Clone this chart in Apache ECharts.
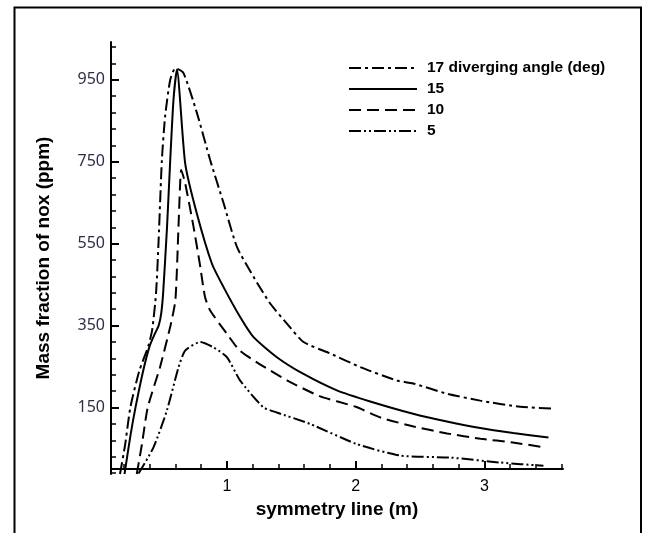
<!DOCTYPE html>
<html>
<head>
<meta charset="utf-8">
<script src="https://cdn.jsdelivr.net/npm/echarts@6/dist/echarts.min.js"></script>
<style>html,body{margin:0;padding:0;background:#fff;}#c{width:647px;height:533px;}</style>
</head>
<body>
<div id="c"></div>
<script>
// ---- data (x = symmetry line in m, y = NOx mass fraction in ppm) ----
const x17 = [0.17,0.21,0.25,0.32,0.39,0.42,0.45,0.47,0.495,0.52,0.56,0.60,0.663,0.767,0.87,0.974,1.078,1.207,1.336,1.466,1.595,1.802,2.035,2.32,2.446,2.708,2.967,3.277,3.523];
const y17 = [-12,60,150,240,300,340,430,560,754,860,950,978,966,869,754,649,542,469,404,355,310,282,249,216,209,184,167,152,148];
const x15 = [0.205,0.25,0.29,0.35,0.40,0.44,0.47,0.49,0.505,0.535,0.56,0.585,0.612,0.676,0.767,0.884,0.974,1.103,1.207,1.388,1.595,1.854,2.113,2.446,2.708,2.967,3.223,3.497];
const y15 = [-12,80,150,240,300,330,350,380,430,590,754,900,975,746,623,501,444,371,322,273,232,192,165,135,116,100,88,77];
const x10 = [0.30,0.34,0.385,0.48,0.562,0.60,0.624,0.637,0.645,0.676,0.741,0.79,0.83,0.87,1.0,1.1,1.26,1.47,1.72,2.0,2.2,2.45,2.71,2.97,3.22,3.46];
const y10 = [-12,60,150,248,350,412,591,697,730,697,591,500,420,387,330,289,255,216,178,152,125,104,87,74,65,53];
const x5 = [0.314,0.43,0.534,0.624,0.676,0.793,0.896,1.0,1.103,1.282,1.388,1.647,2.009,2.346,2.734,3.122,3.458];
const y5 = [-11,53,143,248,289,310,297,273,216,151,138,110,61,33,28,16,8];
const seriesNames = ['17 diverging angle (deg)','15','10','5'];
// ---- axis ticks ----
const xMajor = [1,2,3];
const xMinor = [0.2,0.4,0.6,0.8,1.2,1.4,1.6,1.8,2.2,2.4,2.6,2.8,3.2,3.4,3.6];
const yMajor = [150,350,550,750,950];
const yMinor = [-10,30,70,110,190,230,270,310,390,430,470,510,590,630,670,710,790,830,870,910,990,1030];

const pairs = (xs, ys) => xs.map((v, i) => [v, ys[i]]);
const styles = [
  {type:[12,4,3,4]},
  {type:'solid'},
  {type:[12,6]},
  {type:[12,3,2,3,2,3]}
];
const datasets = [pairs(x17,y17), pairs(x15,y15), pairs(x10,y10), pairs(x5,y5)];

const X_MIN = 0.1, X_MAX = 3.61, Y_MIN = -12, Y_MAX = 1042;
const axisLine = {show:true, lineStyle:{color:'#000', width:2}};
const boldFont = {fontFamily:'Liberation Sans, Arial', fontWeight:'bold', fontSize:15.5, color:'#000'};
const titleFont = {fontFamily:'Liberation Sans, Arial', fontWeight:'bold', fontSize:19, color:'#000'};

const chart = echarts.init(document.getElementById('c'), null, {renderer:'canvas'});
chart.setOption({
  animation:false,
  backgroundColor:'#fff',
  grid:{left:111, right:84, top:42, bottom:59, containLabel:false},
  legend:{
    orient:'vertical', left:343, top:55, itemWidth:68, itemHeight:14, itemGap:5,
    itemStyle:{opacity:0},
    formatter: n => '{t|' + n + '}',
    textStyle:Object.assign({}, boldFont, {lineHeight:16, rich:{t:Object.assign({}, boldFont, {lineHeight:16, padding:[0,0,0,5]})}}),
    data: seriesNames
  },
  xAxis:[{
    type:'value', min:X_MIN, max:X_MAX, position:'bottom',
    axisLine:axisLine,
    axisTick:{show:true, inside:true, length:8, lineStyle:{color:'#000', width:2}, customValues:xMajor},
    axisLabel:{customValues:xMajor, color:'#000', fontFamily:'Liberation Sans, Arial', fontSize:16, margin:5},
    splitLine:{show:false},
    name:'symmetry line (m)', nameLocation:'middle', nameGap:23,
    nameTextStyle:titleFont
  },{
    type:'value', min:X_MIN, max:X_MAX, position:'bottom',
    axisLine:{show:false},
    axisTick:{show:true, inside:true, length:5, lineStyle:{color:'#000', width:1.5}, customValues:xMinor},
    axisLabel:{show:false}, splitLine:{show:false}
  }],
  yAxis:[{
    type:'value', min:Y_MIN, max:Y_MAX, position:'left',
    axisLine:axisLine,
    axisTick:{show:true, inside:true, length:8, lineStyle:{color:'#000', width:2}, customValues:yMajor},
    axisLabel:{customValues:yMajor, color:'#2e2e48', fontFamily:'Noto Sans, Open Sans', fontSize:16, margin:6},
    splitLine:{show:false},
    name:'Mass fraction of nox (ppm)', nameLocation:'middle', nameGap:58, nameRotate:90,
    nameTextStyle:titleFont
  },{
    type:'value', min:Y_MIN, max:Y_MAX, position:'left',
    axisLine:{show:false},
    axisTick:{show:true, inside:true, length:5, lineStyle:{color:'#000', width:1.5}, customValues:yMinor},
    axisLabel:{show:false}, splitLine:{show:false}
  }],
  series: datasets.map((d, i) => ({
    name: seriesNames[i], type:'line', data:d, showSymbol:false, symbol:'none',
    smooth:0.2, clip:true,
    lineStyle:Object.assign({color:'#000', width:2}, styles[i]),
    itemStyle:{color:'#000'}
  })),
  graphic:[{
    type:'rect', silent:true, z:-1,
    shape:{x:14.5, y:7.5, width:626.5, height:600},
    style:{fill:'none', stroke:'#000', lineWidth:2}
  }]
});
</script>
</body>
</html>
